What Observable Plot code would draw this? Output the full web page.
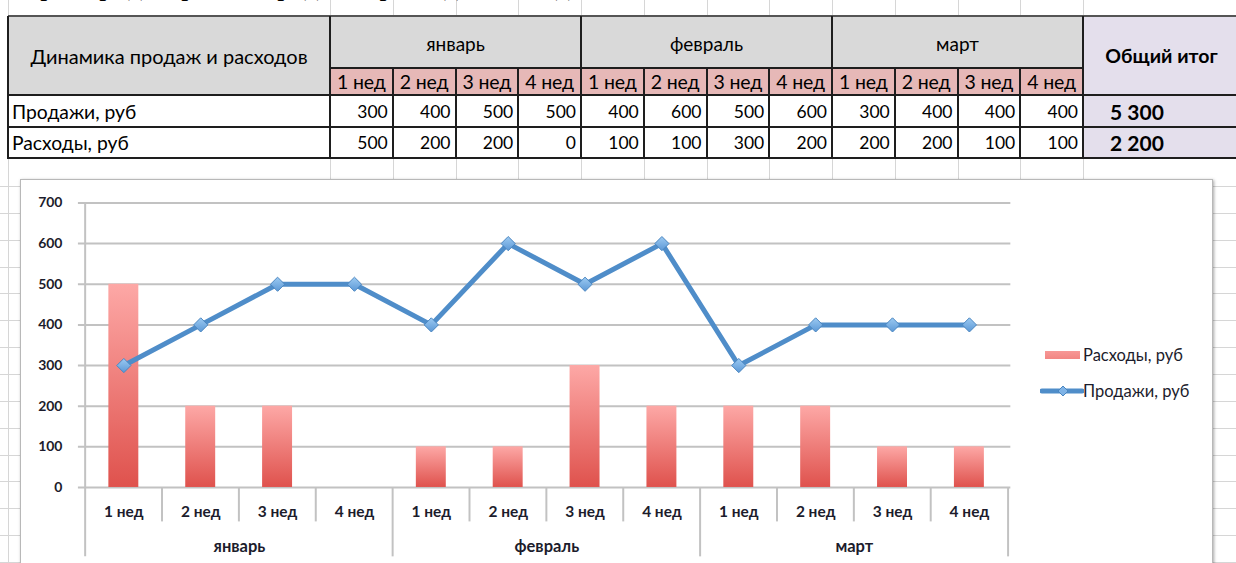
<!DOCTYPE html>
<html><head><meta charset="utf-8">
<script src="https://cdn.jsdelivr.net/npm/d3@7"></script>
<script src="https://cdn.jsdelivr.net/npm/@observablehq/plot@0.6"></script>
<style>
html,body{margin:0;padding:0;background:#fff;}
body{width:1236px;height:563px;overflow:hidden;position:relative;font-family:Lato,"Open Sans",sans-serif;color:#000;}
.a{position:absolute;box-sizing:border-box;white-space:nowrap;}
</style></head><body>
<script>
// ---- data ----
const pageHeading = "Пример: диаграмма продаж и расходов по неделям";
const tableTitle = "Динамика продаж и расходов";
const months = ["январь", "февраль", "март"];
const weeks = ["1 нед", "2 нед", "3 нед", "4 нед"];
const seriesSales = "Продажи, руб";
const seriesExpenses = "Расходы, руб";
const sales = [300, 400, 500, 500, 400, 600, 500, 600, 300, 400, 400, 400];
const expenses = [500, 200, 200, 0, 100, 100, 300, 200, 200, 200, 100, 100];
const totalLabel = "Общий итог";
const yTicks = [0, 100, 200, 300, 400, 500, 600, 700];

// ---- derived table ----
const data = [];
months.forEach((m, mi) => weeks.forEach((w, wi) => {
  const i = mi * weeks.length + wi;
  data.push({key: m + "|" + w, month: m, week: w, sales: sales[i], expenses: expenses[i]});
}));
const keys = data.map(d => d.key);
const fmt = n => String(n).replace(/\B(?=(\d{3})+(?!\d))/g, " ");

const body = document.body;
function div(x, y, w, h, css, text) {
  const e = document.createElement("div");
  e.className = "a";
  e.style.cssText = `left:${x}px;top:${y}px;width:${w}px;height:${h}px;` + (css || "");
  if (text != null) e.textContent = text;
  body.appendChild(e);
  return e;
}

// ---- spreadsheet background grid ----
const colX = [8, 330];
for (let i = 1; i <= 12; i++) colX.push(330 + i * 62.75);
const gridC = "#d6d6d6";
colX.forEach(x => { div(x, 0, 1, 16, `background:${gridC}`); div(x, 158, 1, 405, `background:${gridC}`); });
for (let y = 186; y < 563; y += 26.85) div(0, y, 1236, 1, `background:${gridC}`);

// heading (cut off at top, as in the screenshot)
div(20, -29.5, 1100, 30, "font-family:'Liberation Serif',serif;font-size:28px;line-height:30px;", pageHeading);

// ---- table ----
const T = 16, R1 = 68, R2 = 95, R3 = 127, R4 = 158;
const cw = 62.75, c0 = 330, cEnd = 330 + 12 * cw;
const fsT = "font-size:20px;";
const fsN = "font-size:17.5px;";
div(8, T, c0 - 8, R2 - T, `background:#d9d9d9;display:flex;align-items:center;justify-content:center;${fsT}`, tableTitle);
months.forEach((m, mi) => div(c0 + mi * 4 * cw, T, 4 * cw, R1 - T, `background:#d9d9d9;display:flex;align-items:center;justify-content:center;padding-top:2px;font-size:19px;`, m));
data.forEach((d, i) => div(c0 + i * cw, R1, cw, R2 - R1, `background:#e6b8b7;display:flex;align-items:center;justify-content:center;font-size:19.5px;letter-spacing:-0.2px;`, d.week));
div(cEnd, T, 1240 - cEnd, R2 - T, `background:#e4dfec;display:flex;align-items:center;justify-content:center;font-weight:bold;font-size:19.5px;`, totalLabel);
[[seriesSales, "sales", R2, R3], [seriesExpenses, "expenses", R3, R4]].forEach(([lab, f, y0, y1]) => {
  div(8, y0, c0 - 8, y1 - y0, `display:flex;align-items:center;padding-left:4px;font-size:19.3px;`, lab);
  data.forEach((d, i) => div(c0 + i * cw, y0, cw, y1 - y0, `display:flex;align-items:center;justify-content:flex-end;padding-right:5px;${fsN}`, d[f]));
  div(cEnd, y0, 1240 - cEnd, y1 - y0, `background:#e4dfec;display:flex;align-items:center;padding-left:27px;font-weight:bold;font-size:21px;`, fmt(d3.sum(data, d => d[f])));
});
// table borders
const bc = "#1e1e1e";
div(8, T - 1, 1228, 2, "background:#555");
[R2, R3, R4].forEach(y => div(8, y - 1, 1236, 2, `background:${bc}`));
div(c0, R1 - 1, cEnd - c0, 2, `background:${bc}`);
[8, c0, c0 + 4 * cw, c0 + 8 * cw, cEnd].forEach(x => div(x - 1, T, 2, R4 - T + 1, `background:${bc}`));
for (let i = 1; i < 12; i++) if (i % 4) div(c0 + i * cw - 1, R1, 2, R4 - R1 + 1, `background:${bc}`);

// ---- chart box ----
const box = div(20, 179, 1193, 400, "background:#fff;border:1px solid #b8b8b8;box-shadow:1px 1px 3px rgba(0,0,0,0.35);");

const W = 1193, H = 384, mL = 62, mR = 201, mT = 23.5, mB = 75.5;
const bw = (W - mL - mR) / keys.length;
const frameH = H - mT - mB;
const axisC = "#c2c2c2";
const txtC = "#1c1c2c";

const plot = Plot.plot({
  width: W, height: H,
  marginLeft: mL, marginRight: mR, marginTop: mT, marginBottom: mB,
  x: {type: "band", domain: keys, padding: 0, axis: null},
  y: {domain: [0, 700], axis: null},
  style: {fontFamily: "Lato, 'Open Sans', sans-serif", background: "transparent", overflow: "visible"},
  marks: [
    Plot.ruleY(yTicks, {y: d => d, stroke: axisC, strokeWidth: 2, insetLeft: -4}),
    Plot.text(yTicks, {y: d => d, text: d => String(d), frameAnchor: "left", textAnchor: "end", dx: -20, fontSize: 14, fontWeight: "bold", fill: txtC}),
    Plot.ruleX([keys[0]], {x: d => d, dx: -bw / 2, stroke: axisC, strokeWidth: 2, insetBottom: -69.5}),
    Plot.ruleX(keys.filter((k, i) => i % 4 !== 0), {x: d => d, dx: -bw / 2, stroke: axisC, strokeWidth: 2, insetTop: frameH, insetBottom: -34.5}),
    Plot.ruleX(keys.filter((k, i) => i > 0 && i % 4 === 0), {x: d => d, dx: -bw / 2, stroke: axisC, strokeWidth: 2, insetTop: frameH, insetBottom: -69.5}),
    Plot.ruleX([keys[keys.length - 1]], {x: d => d, dx: bw / 2, stroke: axisC, strokeWidth: 2, insetTop: frameH, insetBottom: -69.5}),
    Plot.barY(data, {x: "key", y: "expenses", fill: "url(#barGrad)", insetLeft: 23.5, insetRight: 23.5}),
    Plot.line(data, {x: "key", y: "sales", stroke: "#4f8dc9", strokeWidth: 5, strokeLinejoin: "round"}),
    Plot.dot(data, {x: "key", y: "sales", symbol: "diamond2", r: 6.4, fill: "url(#dotGrad)", stroke: "#4a86c0", strokeWidth: 1}),
    Plot.text(data, {x: "key", text: "week", frameAnchor: "bottom", lineAnchor: "middle", dy: 24.5, fontSize: 15.5, fontWeight: "bold", fill: txtC}),
    Plot.text(data.filter(d => d.week === weeks[1]), {x: "key", text: "month", dx: bw / 2, frameAnchor: "bottom", lineAnchor: "middle", dy: 59.5, fontSize: 16.5, fontWeight: "bold", fill: txtC})
  ]
});
const defs = d3.select(plot).insert("defs", ":first-child");
const g1 = defs.append("linearGradient").attr("id", "barGrad").attr("x1", 0).attr("y1", 0).attr("x2", 0).attr("y2", 1);
g1.append("stop").attr("offset", "0%").attr("stop-color", "#fda8a6");
g1.append("stop").attr("offset", "100%").attr("stop-color", "#df524d");
const g2 = defs.append("linearGradient").attr("id", "dotGrad").attr("x1", 0).attr("y1", 0).attr("x2", 0).attr("y2", 1);
g2.append("stop").attr("offset", "0%").attr("stop-color", "#9ccaf2");
g2.append("stop").attr("offset", "100%").attr("stop-color", "#5c98d6");
plot.style.position = "absolute";
plot.style.left = "-1px";
plot.style.top = "-1px";
box.appendChild(plot);

// ---- legend ----
const lg = "font-size:16.5px;color:" + txtC + ";display:flex;align-items:center;";
div(1045, 351, 35, 8, "background:linear-gradient(#f79896,#f28683);");
div(1083, 345, 130, 20, lg, seriesExpenses);
const ls = div(1040, 383, 44, 16, "");
ls.innerHTML = `<svg width="44" height="16"><line x1="2" y1="8" x2="42" y2="8" stroke="#4f8dc9" stroke-width="5" stroke-linecap="round"/><path d="M23,3 L28,8 L23,13 L18,8Z" fill="#7fb3e6" stroke="#4a86c0" stroke-width="1"/></svg>`;
div(1083, 381, 130, 20, lg, seriesSales);
</script>
</body></html>
